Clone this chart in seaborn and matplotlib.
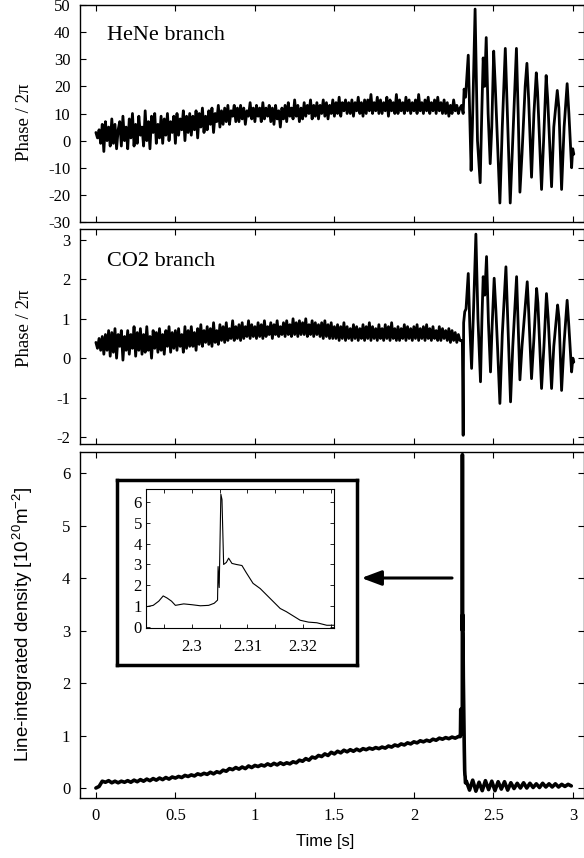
import numpy as np
import matplotlib
matplotlib.use("Agg")
import matplotlib.pyplot as plt
import seaborn as sns

# ---- data ----
# HeNe branch phase, sampled every 10 ms from 0 to 2.29 s
hene_pre = [
    3, 1, 4, -1, 6, -4, 7, 0, 5, -2,
    8, -1, 6, -3, 4, 7, -2, 9, 0, 5,
    -3, 8, 1, 10, -2, 6, -1, 9, 2, 5,
    -2, 11, 0, 7, -3, 9, 3, 10, -1, 6,
    1, 9, -1, 8, 2, 10, 0, 7, 3, 9,
    -1, 10, 2, 8, 4, 11, 0, 9, 3, 10,
    2, 9, 4, 11, 1, 10, 5, 12, 3, 9,
    4, 11, 6, 12, 3, 10, 7, 13, 5, 11,
    6, 12, 7, 13, 6, 11, 9, 13, 7, 12,
    7, 13, 8, 12, 6, 11, 9, 14, 8, 12,
    7, 13, 9, 12, 7, 14, 8, 12, 9, 13,
    7, 12, 6, 13, 8, 11, 5, 12, 8, 13,
    7, 14, 9, 12, 8, 15, 9, 13, 7, 12,
    8, 14, 9, 13, 10, 15, 8, 13, 9, 14,
    8, 13, 10, 15, 9, 14, 8, 13, 10, 15,
    9, 14, 10, 16, 9, 14, 11, 15, 10, 14,
    10, 15, 9, 14, 11, 16, 10, 14, 9, 15,
    10, 15, 11, 17, 10, 14, 11, 16, 10, 15,
    10, 14, 11, 16, 9, 15, 11, 14, 10, 17,
    10, 15, 11, 14, 10, 16, 11, 15, 10, 14,
    11, 15, 10, 17, 11, 14, 10, 15, 11, 16,
    10, 14, 11, 15, 10, 16, 11, 14, 10, 15,
    10, 14, 9, 13, 10, 15, 11, 13, 10, 12,
]
hene_post_t = [2.300, 2.310, 2.316, 2.325, 2.342, 2.360, 2.368, 2.385, 2.400, 2.417,
               2.427, 2.436, 2.445, 2.455, 2.467, 2.480, 2.490, 2.502, 2.512, 2.522,
               2.541, 2.556, 2.575, 2.588, 2.606, 2.622, 2.645, 2.656, 2.667, 2.680,
               2.700, 2.711, 2.722, 2.740, 2.755, 2.770, 2.778, 2.803, 2.816, 2.832,
               2.842, 2.866, 2.880, 2.902, 2.912, 2.929, 2.945, 2.964, 2.975, 2.992,
               2.999, 3.006]
hene_post_v = [13, 10, 19, 16, 31.5, -11, 5, 48.5, 0, -15.5,
               10, 30.5, 20, 38, 10, -8.5, 5, 33, 20, 5,
               -23, 5, 34, 10, -23, 0, 34, 10, -19, -5,
               20, 28.5, 15, -13.5, 10, 25, 18, -18, 0, 24,
               15, -17, 5, 18.5, 12, -18, 5, 21, 10, -10,
               -3, -5]

# CO2 branch phase, same sampling
co2_pre = [
    0.4, 0.25, 0.5, 0.2, 0.55, 0.1, 0.6, 0.2, 0.7, 0.05,
    0.65, 0.15, 0.75, 0.0, 0.6, 0.3, 0.7, -0.05, 0.55, 0.2,
    0.7, 0.1, 0.6, 0.25, 0.8, 0.05, 0.65, 0.2, 0.75, 0.1,
    0.6, 0.15, 0.8, 0.2, 0.55, 0.0, 0.7, 0.25, 0.65, 0.15,
    0.75, 0.2, 0.6, 0.1, 0.7, 0.3, 0.8, 0.15, 0.65, 0.25,
    0.7, 0.2, 0.75, 0.3, 0.6, 0.15, 0.8, 0.25, 0.7, 0.3,
    0.8, 0.3, 0.65, 0.2, 0.75, 0.35, 0.85, 0.3, 0.7, 0.4,
    0.8, 0.35, 0.75, 0.3, 0.9, 0.4, 0.7, 0.35, 0.85, 0.45,
    0.8, 0.4, 0.9, 0.45, 0.75, 0.5, 0.95, 0.45, 0.8, 0.5,
    0.85, 0.45, 0.9, 0.5, 0.8, 0.55, 0.95, 0.5, 0.85, 0.55,
    0.8, 0.5, 0.9, 0.55, 0.85, 0.5, 0.95, 0.55, 0.8, 0.6,
    0.9, 0.5, 0.85, 0.6, 0.95, 0.55, 0.8, 0.6, 0.9, 0.55,
    0.95, 0.6, 0.85, 0.55, 1.0, 0.6, 0.9, 0.55, 0.95, 0.6,
    0.9, 0.6, 1.0, 0.55, 0.85, 0.6, 0.95, 0.55, 0.9, 0.6,
    0.85, 0.55, 0.9, 0.5, 0.95, 0.55, 0.85, 0.5, 0.9, 0.5,
    0.8, 0.5, 0.85, 0.45, 0.8, 0.5, 0.9, 0.45, 0.8, 0.5,
    0.75, 0.45, 0.85, 0.5, 0.8, 0.45, 0.75, 0.5, 0.85, 0.45,
    0.8, 0.5, 0.9, 0.45, 0.8, 0.5, 0.75, 0.45, 0.85, 0.5,
    0.75, 0.45, 0.85, 0.5, 0.8, 0.45, 0.9, 0.5, 0.75, 0.45,
    0.8, 0.45, 0.75, 0.5, 0.85, 0.45, 0.8, 0.5, 0.75, 0.45,
    0.8, 0.5, 0.85, 0.45, 0.75, 0.5, 0.8, 0.45, 0.85, 0.5,
    0.75, 0.45, 0.8, 0.5, 0.7, 0.45, 0.8, 0.45, 0.75, 0.5,
    0.7, 0.45, 0.75, 0.4, 0.7, 0.45, 0.65, 0.4, 0.6, 0.45,
]
co2_post_t = [2.300, 2.305, 2.310, 2.313, 2.320, 2.328, 2.342, 2.352, 2.363, 2.375,
              2.390, 2.403, 2.419, 2.428, 2.436, 2.446, 2.457, 2.469, 2.482, 2.492,
              2.505, 2.516, 2.526, 2.541, 2.556, 2.579, 2.592, 2.608, 2.622, 2.646,
              2.656, 2.667, 2.680, 2.713, 2.722, 2.740, 2.755, 2.772, 2.780, 2.803,
              2.818, 2.834, 2.845, 2.866, 2.880, 2.904, 2.913, 2.929, 2.945, 2.964,
              2.975, 2.992, 3.000, 3.006]
co2_post_v = [0.45, 0.40, -1.96, 0.90, 1.18, 1.25, 2.15, 0.80, -0.26, 1.20,
              3.15, 1.00, -0.60, 1.00, 2.07, 1.60, 2.58, 0.90, -0.35, 0.80,
              2.03, 1.20, 0.30, -1.15, 0.60, 2.32, 0.80, -1.11, 0.30, 2.07,
              0.80, -0.55, 0.30, 1.94, 1.20, -0.52, 0.50, 1.77, 1.40, -0.77,
              0.30, 1.64, 1.00, -0.77, 0.30, 1.35, 1.00, -0.82, 0.40, 1.47,
              0.80, -0.35, 0.00, -0.10]

# line-integrated density, every 20 ms before the disruption
dens_pre = [
    0.00, 0.03, 0.13, 0.11, 0.14, 0.10, 0.13, 0.10, 0.13, 0.11,
    0.14, 0.11, 0.15, 0.12, 0.16, 0.13, 0.17, 0.14, 0.18, 0.15,
    0.19, 0.16, 0.20, 0.17, 0.21, 0.19, 0.22, 0.20, 0.24, 0.22,
    0.25, 0.23, 0.27, 0.25, 0.28, 0.26, 0.30, 0.27, 0.31, 0.29,
    0.34, 0.32, 0.37, 0.35, 0.39, 0.36, 0.40, 0.37, 0.42, 0.39,
    0.43, 0.41, 0.44, 0.42, 0.46, 0.43, 0.47, 0.44, 0.48, 0.45,
    0.48, 0.46, 0.50, 0.48, 0.53, 0.51, 0.56, 0.53, 0.59, 0.57,
    0.62, 0.60, 0.65, 0.62, 0.68, 0.65, 0.70, 0.67, 0.72, 0.69,
    0.73, 0.70, 0.74, 0.71, 0.75, 0.73, 0.76, 0.74, 0.77, 0.75,
    0.78, 0.76, 0.80, 0.78, 0.82, 0.80, 0.84, 0.82, 0.86, 0.84,
    0.88, 0.86, 0.90, 0.88, 0.91, 0.89, 0.93, 0.91, 0.95, 0.93,
    0.96, 0.94, 0.97, 0.95, 0.98,
]
# zoom on the disruption (inset)
dens_fast_t = [2.2917, 2.2930, 2.2940, 2.2948, 2.2955, 2.2963, 2.2970, 2.2985, 2.3000, 2.3015,
               2.3030, 2.3040, 2.3046, 2.3047, 2.3049, 2.3052, 2.3054, 2.3057, 2.3062, 2.3066,
               2.3072, 2.3080, 2.3090, 2.3098, 2.3110, 2.3123, 2.3140, 2.3159, 2.3170, 2.3195,
               2.3210, 2.3225, 2.3243, 2.3256]
dens_fast_v = [0.98, 1.05, 1.25, 1.50, 1.40, 1.25, 1.05, 1.12, 1.08, 1.03,
               1.05, 1.15, 1.30, 2.90, 1.90, 6.35, 6.10, 3.00, 3.10, 3.30,
               3.05, 3.00, 2.95, 2.60, 2.10, 1.85, 1.40, 0.90, 0.75, 0.34,
               0.25, 0.22, 0.10, 0.10]
# after the disruption, every 20 ms from 2.33 s
dens_post = [0.13, -0.04, 0.15, -0.06, 0.11, -0.05, 0.14, -0.03, 0.13, -0.05,
             0.12, -0.02, 0.12, -0.04, 0.10, -0.01, 0.09, 0.00, 0.10, 0.00,
             0.09, 0.01, 0.08, 0.01, 0.09, 0.02, 0.08, 0.02, 0.08, 0.02,
             0.07, 0.03, 0.07, 0.04]

time_ticks = [0, 0.5, 1, 1.5, 2, 2.5, 3]
time_labels = ["0", "0.5", "1", "1.5", "2", "2.5", "3"]

# ---- assemble series ----
t_fast = np.arange(len(hene_pre)) * 0.01
hene_t = np.concatenate([t_fast, hene_post_t])
hene_v = np.concatenate([hene_pre, hene_post_v])
co2_t = np.concatenate([t_fast, co2_post_t])
co2_v = np.concatenate([co2_pre, co2_post_v])
dens_t = np.concatenate([np.arange(len(dens_pre)) * 0.02, dens_fast_t,
                         2.33 + np.arange(len(dens_post)) * 0.02])
dens_v = np.concatenate([dens_pre, dens_fast_v, dens_post])

sns.set_theme(style="ticks")
plt.rcParams["font.family"] = ["Liberation Serif", "DejaVu Serif"]
plt.rcParams["axes.unicode_minus"] = False
plt.rcParams["text.color"] = "black"
plt.rcParams["axes.labelcolor"] = "black"
plt.rcParams["mathtext.fontset"] = "custom"
plt.rcParams["mathtext.rm"] = "Liberation Sans"
plt.rcParams["mathtext.it"] = "Liberation Sans:italic"

W, H = 584, 858
fig = plt.figure(figsize=(W / 100, H / 100), dpi=100)


def box(l, t, r, b):
    return [l / W, 1 - b / H, (r - l) / W, (b - t) / H]


ax1 = fig.add_axes(box(80, 5, 584, 222))
ax2 = fig.add_axes(box(80, 229, 584, 444))
ax3 = fig.add_axes(box(80, 452, 584, 798))

for ax in (ax1, ax2, ax3):
    ax.set_xlim(-0.1, 3.07)
    ax.set_xticks(time_ticks)
    ax.tick_params(direction="in", top=True, right=True, length=4, width=0.8,
                   labelsize=12, pad=7, colors="black")
    for sp in ax.spines.values():
        sp.set_linewidth(1.0)
        sp.set_color("black")

# ===== HeNe branch =====
sns.lineplot(x=hene_t, y=hene_v, ax=ax1, color="black", lw=2.0, estimator=None)
ax1.set_ylim(-30, 50)
ax1.set_yticks(range(-30, 51, 10))
ax1.set_xticklabels([])
ax1.set_ylabel("Phase / 2π", fontsize=13.5)
ax1.yaxis.set_label_coords(-0.093, 0.46)
ax1.text(0.054, 0.86, "HeNe branch", transform=ax1.transAxes, fontsize=16,
         va="center", color="black")

# ===== CO2 branch =====
sns.lineplot(x=co2_t, y=co2_v, ax=ax2, color="black", lw=2.0, estimator=None)
ax2.set_ylim(-2.18, 3.28)
ax2.set_yticks(range(-2, 4))
ax2.set_xticklabels([])
ax2.set_ylabel("Phase / 2π", fontsize=13.5)
ax2.yaxis.set_label_coords(-0.093, 0.54)
ax2.text(0.054, 0.847, "CO2 branch", transform=ax2.transAxes, fontsize=16,
         va="center", color="black")

# ===== density =====
sns.lineplot(x=dens_t, y=dens_v, ax=ax3, color="black", lw=2.6, estimator=None)
ax3.set_ylim(-0.19, 6.4)
ax3.set_yticks(range(0, 7))
ax3.set_xticklabels(time_labels)
ax3.set_xlabel("Time [s]", family=["Liberation Sans"], fontsize=12)
ax3.xaxis.set_label_coords(0.486, -0.105)
ax3.set_ylabel(r"Line-integrated density [10$^{\,20}$m$^{-2}$]",
               family=["Liberation Sans"], fontsize=13.5)
ax3.yaxis.set_label_coords(-0.089, 0.503)
ax3.annotate("", xy=(1.67, 4.0), xytext=(2.24, 4.0),
             arrowprops=dict(arrowstyle="-|>,head_length=0.8,head_width=0.3",
                             color="black", lw=2.2, mutation_scale=15,
                             shrinkA=0, shrinkB=0))

# inset frame and inset axes
frame = fig.add_axes(box(117, 480, 357, 665))
frame.set_xticks([])
frame.set_yticks([])
frame.set_facecolor("white")
for sp in frame.spines.values():
    sp.set_linewidth(2.5)
    sp.set_color("black")

axin = fig.add_axes(box(146, 489, 334, 628))
sns.lineplot(x=dens_t, y=dens_v, ax=axin, color="black", lw=0.8, estimator=None)
axin.set_xlim(2.2917, 2.3256)
axin.set_ylim(-0.03, 6.6)
axin.set_xticks([2.3, 2.31, 2.32])
axin.set_xticklabels(["2.3", "2.31", "2.32"])
axin.set_xticks([2.295, 2.305, 2.315, 2.325], minor=True)
axin.set_yticks(range(0, 7))
axin.tick_params(which="both", direction="in", top=True, right=True, length=3,
                 width=0.6, labelsize=12, pad=3, colors="black")
axin.tick_params(axis="x", pad=8)
for sp in axin.spines.values():
    sp.set_linewidth(0.8)
    sp.set_color("black")

plt.savefig("out.png", dpi=100)
plt.close()
